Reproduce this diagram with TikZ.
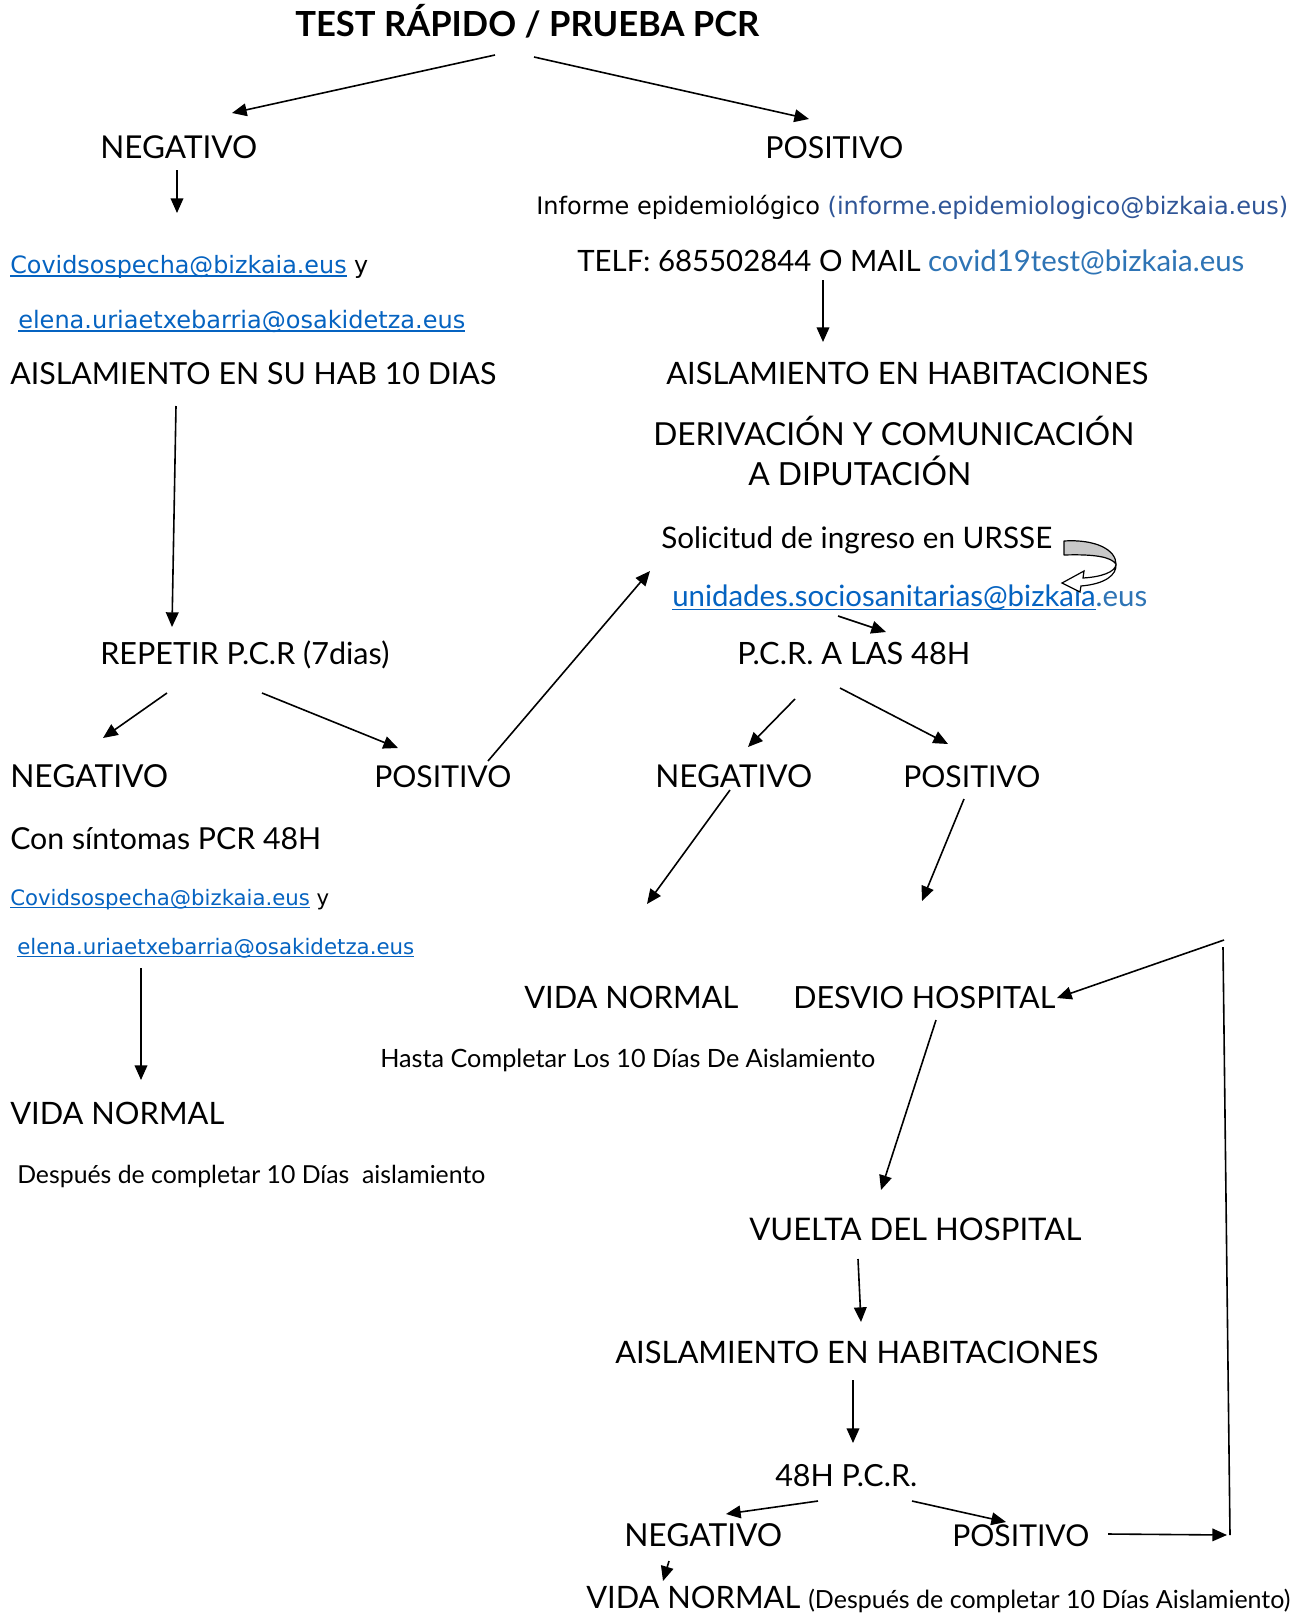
\documentclass[tikz,border=0pt]{standalone}
\usepackage{fontspec}
\setmainfont{Lato}
\newfontfamily\vfont{DejaVu Sans}
\usetikzlibrary{arrows.meta}
\definecolor{linkblue}{HTML}{0563C1}
\definecolor{infblue}{HTML}{2F5597}
\definecolor{covblue}{HTML}{2E74B5}
\definecolor{shade}{HTML}{C8C8C8}
\newlength\px \setlength\px{0.75pt}
\newcommand\fw[2]{\resizebox{#1\px}{!}{#2}}
\newcommand\wul[1]{\setbox0\hbox{#1}\rlap{\rule[-0.13em]{\wd0}{0.065em}}\box0}
\begin{document}
\begin{tikzpicture}[x=0.75pt,y=-0.75pt,
  txt/.style={inner sep=0pt, anchor=base west, yshift=-3.5pt},
  arr/.style={line width=1.2pt, -{Triangle[length=11pt,width=9.5pt]}},
  ln/.style={line width=1.2pt}]
\useasboundingbox[fill=white] (0,0) rectangle (1304,1613);

% ---------- texts ----------
\node[txt] (title) at (295,32) {\fw{464}{\bfseries TEST RÁPIDO / PRUEBA PCR}};
\node[txt] (neg1) at (100,154) {\fw{157}{NEGATIVO}};
\node[txt] (pos1) at (765,154) {\fw{138}{POSITIVO}};
\node[txt] (informe) at (536,210) {\fw{752}{\vfont Informe epidemiológico \textcolor{infblue}{(informe.epidemiologico@bizkaia.eus)}}};
\node[txt] (telf) at (577,267) {\fw{667}{TELF: 685502844 O MAIL \textcolor{covblue}{covid19test@bizkaia.eus}}};
\node[txt] (cov1) at (10,269) {\fw{358}{\vfont\textcolor{linkblue}{\wul{Covidsospecha@bizkaia.eus}} y}};
\node[txt] (elena1) at (18,324) {\fw{447}{\vfont\textcolor{linkblue}{\wul{elena.uriaetxebarria@osakidetza.eus}}}};
\node[txt] (aisl1) at (10,380) {\fw{486}{AISLAMIENTO EN SU HAB 10 DIAS}};
\node[txt] (aislH1) at (666,380) {\fw{482}{AISLAMIENTO EN HABITACIONES}};
\node[txt] (deriv) at (653,441) {\fw{481}{DERIVACIÓN Y COMUNICACIÓN}};
\node[txt] (adip) at (748,481) {\fw{223}{A DIPUTACIÓN}};
\node[txt] (solic) at (661,544) {\fw{391}{Solicitud de ingreso en URSSE}};
\node[txt] (unid) at (672,602) {\fw{475}{\textcolor{linkblue}{\wul{unidades.sociosanitarias@bizkaia}}\textcolor{covblue}{.eus}}};
\node[txt] (pcr48) at (737,660) {\fw{233}{P.C.R. A LAS 48H}};
\node[txt] (repetir) at (100,660) {\fw{289}{REPETIR P.C.R (7dias)}};
\node[txt] (neg2) at (10,783) {\fw{158}{NEGATIVO}};
\node[txt] (pos2) at (374,783) {\fw{137}{POSITIVO}};
\node[txt] (neg3) at (655,783) {\fw{157}{NEGATIVO}};
\node[txt] (pos3) at (903,783) {\fw{137}{POSITIVO}};
\node[txt] (consint) at (10,845) {\fw{311}{Con síntomas PCR 48H}};
\node[txt] (cov2) at (10,901) {\fw{319}{\vfont\textcolor{linkblue}{\wul{Covidsospecha@bizkaia.eus}} y}};
\node[txt] (elena2) at (17,950) {\fw{397}{\vfont\textcolor{linkblue}{\wul{elena.uriaetxebarria@osakidetza.eus}}}};
\node[txt] (vida1) at (10,1120) {\fw{214}{VIDA NORMAL}};
\node[txt] (despues1) at (17,1179) {\fw{468}{Después de completar 10 Días\ \ aislamiento}};
\node[txt] (vida2) at (524,1004) {\fw{214}{VIDA NORMAL}};
\node[txt] (desvio) at (793,1004) {\fw{262}{DESVIO HOSPITAL}};
\node[txt] (hasta) at (380,1063) {\fw{495}{Hasta Completar Los 10 Días De Aislamiento}};
\node[txt] (vuelta) at (749,1236) {\fw{332}{VUELTA DEL HOSPITAL}};
\node[txt] (aislH2) at (615,1359) {\fw{483}{AISLAMIENTO EN HABITACIONES}};
\node[txt] (h48) at (775,1482) {\fw{142}{48H P.C.R.}};
\node[txt] (neg4) at (624,1542) {\fw{158}{NEGATIVO}};
\node[txt] (pos4) at (952,1542) {\fw{137}{POSITIVO}};
\node[txt] (vida3) at (586,1604) {\fw{214}{VIDA NORMAL}};
\node[txt] (vida3b) at (808,1604) {\fw{482}{(Después de completar 10 Días Aislamiento)}};

% ---------- arrow end points ----------
\coordinate (a1s) at (495,55);   \coordinate (a1e) at (232,113);
\coordinate (a2s) at (534,57);   \coordinate (a2e) at (809,119);
\coordinate (a3s) at (177,170);  \coordinate (a3e) at (177,213);
\coordinate (a4s) at (823,280);  \coordinate (a4e) at (823,342);
\coordinate (a5s) at (176,406);  \coordinate (a5e) at (172,627);
\coordinate (a6s) at (167,693);  \coordinate (a6e) at (103,738);
\coordinate (a7s) at (262,693);  \coordinate (a7e) at (398,748);
\coordinate (a8s) at (488,761);  \coordinate (a8e) at (650,571);
\coordinate (a9s) at (838,616);  \coordinate (a9e) at (886,632);
\coordinate (a10s) at (795,699); \coordinate (a10e) at (748,747);
\coordinate (a11s) at (840,688); \coordinate (a11e) at (948,744);
\coordinate (a12s) at (730,790); \coordinate (a12e) at (647,904);
\coordinate (a13s) at (964,799); \coordinate (a13e) at (922,901);
\coordinate (a14s) at (141,968); \coordinate (a14e) at (141,1080);
\coordinate (a15s) at (1224,940);\coordinate (a15e) at (1057,998);
\coordinate (vtop) at (1223,947);\coordinate (vbot) at (1230,1535);
\coordinate (a16s) at (1108,1534);\coordinate (a16e) at (1227,1535);
\coordinate (a17s) at (936,1020);\coordinate (a17e) at (881,1190);
\coordinate (a18s) at (858,1259);\coordinate (a18e) at (861,1322);
\coordinate (a19s) at (853,1380);\coordinate (a19e) at (853,1443);
\coordinate (a20s) at (818,1501);\coordinate (a20e) at (726,1514);
\coordinate (a21s) at (912,1501);\coordinate (a21e) at (1006,1522);
\coordinate (a22s) at (669,1561);\coordinate (a22e) at (663,1581);

% ---------- connectors ----------
\draw[arr] (a1s) -- (a1e);
\draw[arr] (a2s) -- (a2e);
\draw[arr] (a3s) -- (a3e);
\draw[arr] (a4s) -- (a4e);
\draw[arr] (a5s) -- (a5e);
\draw[arr] (a6s) -- (a6e);
\draw[arr] (a7s) -- (a7e);
\draw[arr] (a8s) -- (a8e);
\draw[arr] (a9s) -- (a9e);
\draw[arr] (a10s) -- (a10e);
\draw[arr] (a11s) -- (a11e);
\draw[arr] (a12s) -- (a12e);
\draw[arr] (a13s) -- (a13e);
\draw[arr] (a14s) -- (a14e);
\draw[arr] (a15s) -- (a15e);
\draw[ln] (vtop) -- (vbot);
\draw[arr] (a16s) -- (a16e);
\draw[arr] (a17s) -- (a17e);
\draw[arr] (a18s) -- (a18e);
\draw[arr] (a19s) -- (a19e);
\draw[arr] (a20s) -- (a20e);
\draw[arr] (a21s) -- (a21e);
\draw[arr] (a22s) -- (a22e);

% ---------- curved arrow near URSSE ----------
\draw[line width=0.9pt, fill=shade, line join=round]
  (1064,541) .. controls (1096,539) and (1116,550) .. (1116,564)
  .. controls (1111,557) and (1095,554) .. (1064,555) -- cycle;
\draw[line width=0.9pt, fill=white, line join=miter]
  (1116,564) .. controls (1116,572) and (1101,577) .. (1083,578)
  -- (1084,571) -- (1062,583) -- (1080,592) -- (1081,586)
  .. controls (1105,584) and (1117,575) .. (1116,564) -- cycle;
\end{tikzpicture}
\end{document}
